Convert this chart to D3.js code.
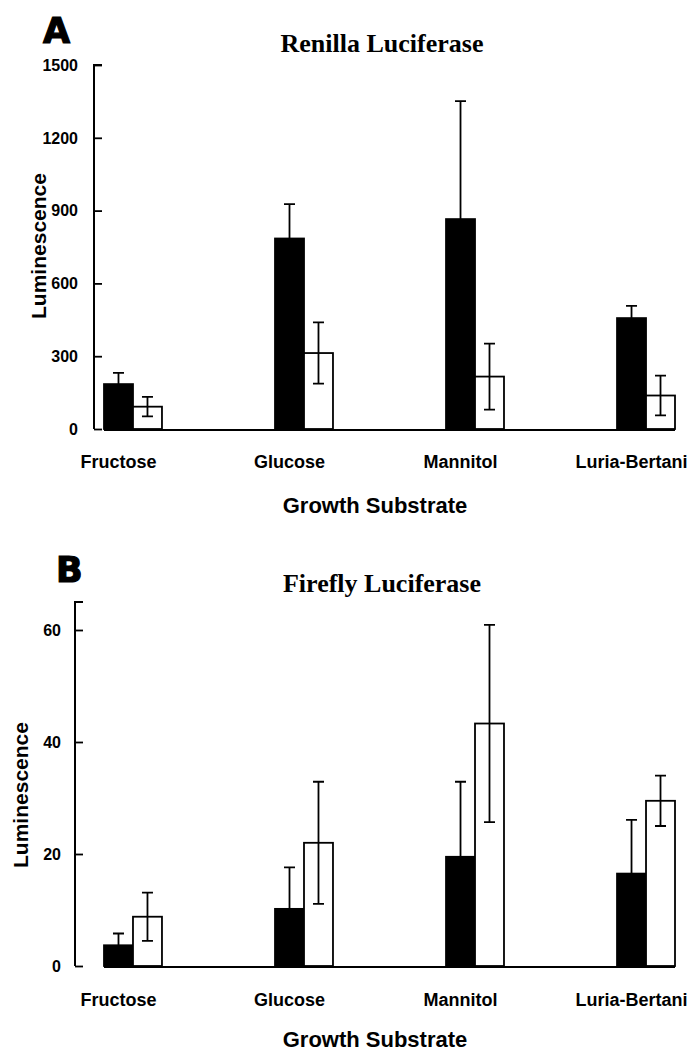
<!DOCTYPE html>
<html>
<head>
<meta charset="utf-8">
<script src="https://cdn.jsdelivr.net/npm/d3@7"></script>
<style>
  html, body { margin: 0; padding: 0; background: #fff; }
  svg { display: block; }
</style>
</head>
<body>
<svg id="chart" width="689" height="1053"></svg>
<script>
// ---------- data ----------
const categories = ["Fructose", "Glucose", "Mannitol", "Luria-Bertani"];
const series = ["filled", "open"];

const renillaFilled    = [185, 785, 865, 457];
const renillaFilledErr = [46, 142, 486, 50];
const renillaOpen      = [92, 313, 216, 138];
const renillaOpenErr   = [40, 126, 136, 82];
const renillaTicks     = [0, 300, 600, 900, 1200, 1500];

const fireflyFilled    = [3.7, 10.2, 19.5, 16.5];
const fireflyFilledErr = [2.1, 7.4, 13.4, 9.6];
const fireflyOpen      = [8.8, 22.0, 43.3, 29.5];
const fireflyOpenErr   = [4.3, 10.9, 17.6, 4.5];
const fireflyTicks     = [0, 20, 40, 60];

const panelLetters = ["A", "B"];
const panelTitles  = ["Renilla Luciferase", "Firefly Luciferase"];
const xTitle = "Growth Substrate";
const yTitle = "Luminescence";

// ---------- drawing ----------
const svg = d3.select("#chart");
const SANS = "'Liberation Sans', Arial, sans-serif";
const SERIF = "'Liberation Serif', 'Times New Roman', serif";

function drawPanel(cfg) {
  const g = svg.append("g");

  const x = d3.scaleBand().domain(categories).range([104, 675]).paddingInner(0.661).paddingOuter(0);
  const xs = d3.scaleBand().domain(series).range([0, x.bandwidth()]);
  const y = d3.scaleLinear().domain(cfg.domain).range([cfg.y0, cfg.yTop]);

  const rows = categories.map((c, i) => ({
    cat: c,
    vals: [
      { s: "filled", v: cfg.filled[i], e: cfg.filledErr[i] },
      { s: "open", v: cfg.open[i], e: cfg.openErr[i] }
    ]
  }));

  // panel letter
  g.append("text")
    .attr("x", cfg.letterX).attr("y", cfg.letterY)
    .attr("font-family", "'DejaVu Sans', sans-serif")
    .attr("font-weight", "bold")
    .attr("font-size", 35)
    .attr("stroke", "#000").attr("stroke-width", 1.2)
    .text(cfg.letter);

  // title
  g.append("text")
    .attr("x", 382).attr("y", cfg.titleY)
    .attr("text-anchor", "middle")
    .attr("font-family", SERIF).attr("font-weight", "bold").attr("font-size", 26)
    .text(cfg.title);

  // y axis
  const axis = d3.axisRight(y).tickValues(cfg.ticks).tickSize(8).tickFormat("");
  const ag = g.append("g").attr("transform", `translate(${cfg.axisX},0)`).call(axis);
  ag.select(".domain").attr("d", `M8,${y(cfg.domain[1])}H0V${y(0)}`)
    .attr("stroke", "#000").attr("stroke-width", 2).attr("fill", "none");
  ag.selectAll(".tick line").attr("stroke", "#000").attr("stroke-width", 1.8);

  // tick labels
  g.selectAll("text.tl").data(cfg.ticks).enter().append("text")
    .attr("class", "tl")
    .attr("x", cfg.axisX - cfg.labelGap)
    .attr("y", d => y(d))
    .attr("dy", "0.36em")
    .attr("text-anchor", "end")
    .attr("font-family", SANS).attr("font-weight", "bold").attr("font-size", 16)
    .text(d => d);

  // y title
  g.append("text")
    .attr("transform", `translate(${cfg.yTitleX},${cfg.yTitleY}) rotate(-90)`)
    .attr("text-anchor", "middle").attr("dy", "0.36em")
    .attr("font-family", SANS).attr("font-weight", "bold").attr("font-size", 21)
    .text(yTitle);

  // bars
  const grp = g.selectAll("g.grp").data(rows).enter().append("g")
    .attr("class", "grp")
    .attr("transform", d => `translate(${x(d.cat)},0)`);

  grp.selectAll("rect").data(d => d.vals).enter().append("rect")
    .attr("x", d => xs(d.s))
    .attr("y", d => y(d.v))
    .attr("width", xs.bandwidth())
    .attr("height", d => y(0) - y(d.v))
    .attr("fill", d => d.s === "filled" ? "#000" : "#fff")
    .attr("stroke", "#000").attr("stroke-width", 1.8);

  // error bars
  const cap = 5.5;
  grp.selectAll("path.err").data(d => d.vals).enter().append("path")
    .attr("class", "err")
    .attr("d", d => {
      const cx = xs(d.s) + xs.bandwidth() / 2;
      const top = y(d.v + d.e);
      if (d.s === "filled") {
        return `M${cx},${y(d.v)}V${top}M${cx - cap},${top}H${cx + cap}`;
      }
      const bot = y(Math.max(0, d.v - d.e));
      return `M${cx},${bot}V${top}M${cx - cap},${top}H${cx + cap}M${cx - cap},${bot}H${cx + cap}`;
    })
    .attr("stroke", "#000").attr("stroke-width", 1.8).attr("fill", "none");

  // baseline
  g.append("line")
    .attr("x1", x.range()[0]).attr("x2", x.range()[1])
    .attr("y1", y(0) + 1).attr("y2", y(0) + 1)
    .attr("stroke", "#000").attr("stroke-width", 2.2);

  // category labels (centered under filled bar)
  g.selectAll("text.cat").data(categories).enter().append("text")
    .attr("class", "cat")
    .attr("x", d => x(d) + xs("filled") + xs.bandwidth() / 2)
    .attr("y", cfg.catY)
    .attr("text-anchor", "middle")
    .attr("font-family", SANS).attr("font-weight", "bold").attr("font-size", 18)
    .text(d => d);

  // x title
  g.append("text")
    .attr("x", 375).attr("y", cfg.xTitleY)
    .attr("text-anchor", "middle")
    .attr("font-family", SANS).attr("font-weight", "bold").attr("font-size", 22)
    .text(xTitle);
}

drawPanel({
  letter: panelLetters[0], letterX: 43, letterY: 43,
  title: panelTitles[0], titleY: 52,
  filled: renillaFilled, filledErr: renillaFilledErr,
  open: renillaOpen, openErr: renillaOpenErr,
  ticks: renillaTicks, domain: [0, 1500],
  y0: 429, yTop: 65, axisX: 94, labelGap: 16,
  yTitleX: 38, yTitleY: 246,
  catY: 468, xTitleY: 513
});

drawPanel({
  letter: panelLetters[1], letterX: 56, letterY: 582,
  title: panelTitles[1], titleY: 592,
  filled: fireflyFilled, filledErr: fireflyFilledErr,
  open: fireflyOpen, openErr: fireflyOpenErr,
  ticks: fireflyTicks, domain: [0, 65],
  y0: 966, yTop: 602, axisX: 75, labelGap: 14,
  yTitleX: 20, yTitleY: 795,
  catY: 1006, xTitleY: 1047
});
</script>
</body>
</html>
